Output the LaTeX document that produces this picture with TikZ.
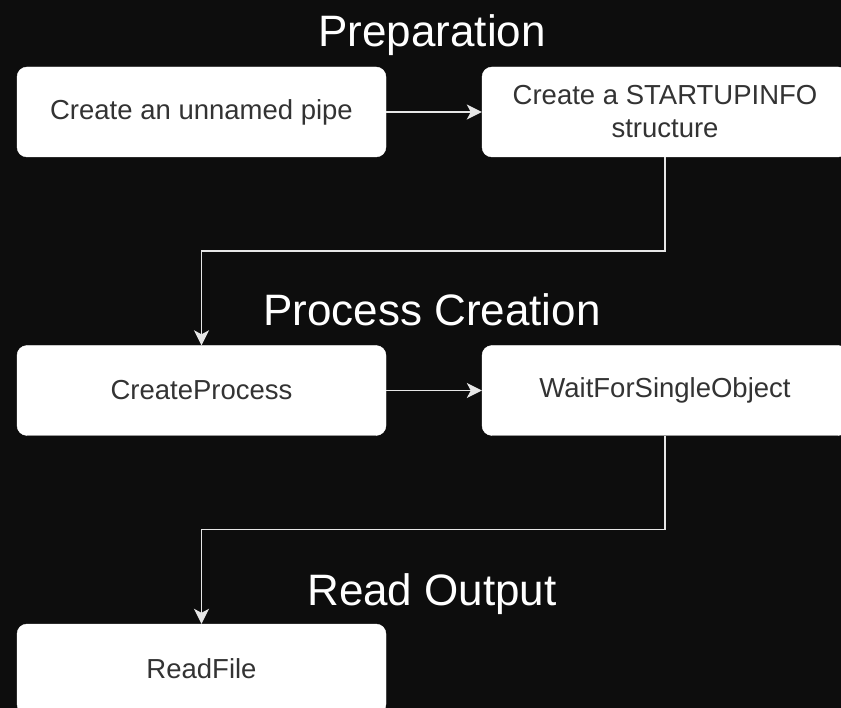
\documentclass[tikz,border=0pt]{standalone}
\usepackage{fontspec}
\setmainfont{Liberation Sans}
\usetikzlibrary{arrows.meta}
\definecolor{bg}{HTML}{0D0D0D}
\definecolor{boxtext}{HTML}{333333}
\definecolor{linec}{HTML}{E6E6E6}
\tikzset{
  stepbox/.style={draw=white, fill=white, rounded corners=10pt, minimum width=369pt,
    minimum height=90pt, inner sep=0pt, text=boxtext, align=center,
    font=\fontsize{27.5}{33}\selectfont},
  heading/.style={text=white, inner sep=0pt, anchor=base, font=\fontsize{44}{50}\selectfont},
  flow/.style={draw=linec, line width=1.5pt, -{Stealth[length=15pt,width=15pt,inset=4pt]}}
}
\begin{document}
\begin{tikzpicture}[x=1pt,y=-1pt]
\fill[bg] (0,0) rectangle (841,708);
\useasboundingbox (0,0) rectangle (841,708);
\begin{scope}
\clip (0,0) rectangle (841,708);
\node[heading] (t1) at (432,47) {Preparation};
\node[heading] (t2) at (432,326) {Process Creation};
\node[heading] (t3) at (432,605) {Read Output};
\node[stepbox] (b1) at (201.5,112) {Create an unnamed pipe};
\node[stepbox, minimum width=366pt] (b2) at (665,112) {Create a STARTUPINFO\\structure};
\node[stepbox] (b3) at (201.5,390.5) {CreateProcess};
\node[stepbox, minimum width=366pt] (b4) at (665,390.5) {WaitForSingleObject};
\node[stepbox] (b5) at (201.5,669) {ReadFile};
\draw[flow] (b1.east) -- (b2.west);
\draw[flow] (b3.east) -- (b4.west);
\draw[flow] (b2.south) -- ++(0,94) -| (b3.north);
\draw[flow] (b4.south) -- ++(0,94) -| (b5.north);
\end{scope}
\end{tikzpicture}
\end{document}
